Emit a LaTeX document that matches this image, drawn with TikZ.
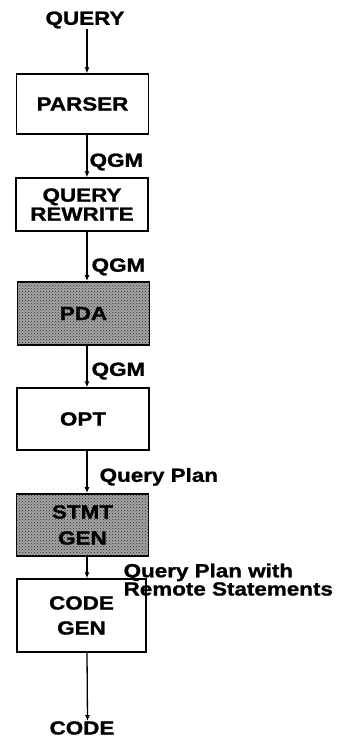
\documentclass[tikz,border=0pt]{standalone}
\usepackage{fontspec}
\setmainfont{Liberation Sans}[FakeStretch=1.18,BoldFeatures={FakeBold=1.2}]
\usetikzlibrary{arrows.meta,patterns}
\begin{document}
\begin{tikzpicture}[x=1pt,y=-1pt,
  lbl/.style={font=\bfseries\fontsize{19}{19}\selectfont,inner sep=0pt},
  box/.style={draw,line width=1.4pt,minimum width=132pt,inner sep=0pt,align=center,
    font=\bfseries\fontsize{19}{19}\selectfont},
  shaded/.style={box,line width=1.8pt,fill=gray!70,postaction={pattern=crosshatch dots,pattern color=black!85}},
  flow/.style={line width=1.3pt,-{Latex[length=6pt,width=5pt]}}]
\useasboundingbox (0,0) rectangle (343,740);
\node[lbl] (q) at (85,20) {QUERY};
\node[box,minimum height=60pt] (parser) at (82.5,104) {PARSER};
\node[box,minimum height=53pt] (qr) at (82,204.5) {QUERY\\REWRITE};
\node[shaded,minimum height=63pt] (pda) at (83.5,313.5) {PDA};
\node[box,minimum height=62pt] (opt) at (83,419) {OPT};
\node[shaded,minimum height=62pt,font=\bfseries\fontsize{19}{26}\selectfont] (stmt) at (82.5,525) {STMT\\GEN};
\node[box,minimum height=73pt,minimum width=129pt,font=\bfseries\fontsize{19}{25}\selectfont] (cg) at (81.5,615.5) {CODE\\GEN};
\node[lbl] (code) at (82,728) {CODE};
\draw[flow] ([xshift=2pt]q.south) -- ([xshift=4.5pt]parser.north);
\draw[flow] ([xshift=4.5pt]parser.south) -- node[lbl,anchor=west,xshift=2pt,yshift=-6pt]{QGM} ([xshift=5pt]qr.north);
\draw[flow] ([xshift=5pt]qr.south) -- node[lbl,anchor=west,xshift=4pt,yshift=-10.5pt]{QGM} ([xshift=3.5pt]pda.north);
\draw[flow] ([xshift=3.5pt]pda.south) -- node[lbl,anchor=west,xshift=4pt,yshift=-4.5pt]{QGM} ([xshift=4pt]opt.north);
\draw[flow] ([xshift=4pt]opt.south) -- node[lbl,anchor=west,xshift=12pt,yshift=-5pt]{Query Plan} ([xshift=4.5pt]stmt.north);
\draw[flow] ([xshift=4.5pt]stmt.south) -- node[lbl,anchor=west,align=left,xshift=36pt,yshift=-12pt,font=\bfseries\fontsize{19}{16}\selectfont]{Query Plan with\\Remote Statements} ([xshift=5.5pt]cg.north);
\draw[flow] ([xshift=5.5pt]cg.south) -- ([xshift=5.5pt]code.north);
\end{tikzpicture}
\end{document}
